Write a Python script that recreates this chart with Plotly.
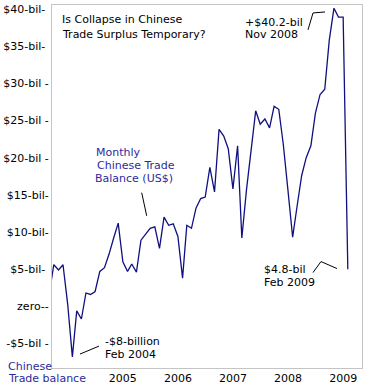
import plotly.graph_objects as go

# ---- data ----
months = [
    "2003-09-01", "2003-10-01", "2003-11-01", "2003-12-01",
    "2004-01-01", "2004-02-01", "2004-03-01", "2004-04-01", "2004-05-01", "2004-06-01",
    "2004-07-01", "2004-08-01", "2004-09-01", "2004-10-01", "2004-11-01", "2004-12-01",
    "2005-01-01", "2005-02-01", "2005-03-01", "2005-04-01", "2005-05-01", "2005-06-01",
    "2005-07-01", "2005-08-01", "2005-09-01", "2005-10-01", "2005-11-01", "2005-12-01",
    "2006-01-01", "2006-02-01", "2006-03-01", "2006-04-01", "2006-05-01", "2006-06-01",
    "2006-07-01", "2006-08-01", "2006-09-01", "2006-10-01", "2006-11-01", "2006-12-01",
    "2007-01-01", "2007-02-01", "2007-03-01", "2007-04-01", "2007-05-01", "2007-06-01",
    "2007-07-01", "2007-08-01", "2007-09-01", "2007-10-01", "2007-11-01", "2007-12-01",
    "2008-01-01", "2008-02-01", "2008-03-01", "2008-04-01", "2008-05-01", "2008-06-01",
    "2008-07-01", "2008-08-01", "2008-09-01", "2008-10-01", "2008-11-01", "2008-12-01",
    "2009-01-01", "2009-02-01",
]
trade_balance_bil = [
    1.8, 5.6, 4.9, 5.6,
    0.3, -6.8, -0.6, -1.7, 1.8, 1.6,
    2.0, 4.7, 5.2, 7.0, 9.2, 11.2,
    6.0, 4.7, 5.7, 4.6, 8.9, 9.8,
    10.5, 10.7, 7.8, 12.0, 10.9, 11.1,
    9.4, 3.8, 10.9, 10.5, 13.2, 14.5,
    14.7, 18.7, 15.4, 23.8, 22.9, 21.2,
    15.8, 21.6, 9.2, 15.7, 21.3, 26.3,
    24.5, 25.2, 24.0, 26.9, 26.5, 21.8,
    15.6, 9.3, 13.4, 17.6, 20.0, 21.6,
    26.0, 28.5, 29.2, 35.8, 40.1, 38.9,
    38.9, 5.0,
]
y_tickvals = [40, 35, 30, 25, 20, 15, 10, 5, 0, -5]
y_ticktext = ["$40-bil-\u00a0", "$35-bil-\u00a0", "$30-bil -", "$25-bil -", "$20-bil -",
              "$15-bil-", "$10-bil-", "$5-bil-\u00a0", "zero--", "-$5-bil -"]
x_tickvals = ["2005-01-01", "2006-01-01", "2007-01-01", "2008-01-01", "2009-01-01"]
x_ticktext = ["2005", "2006", "2007", "2008", "2009"]

W, H = 369, 389
L, R, T, B = 52, 7, 3, 21
PW, PH = W - L - R, H - T - B
FONT = "DejaVu Sans"
BLUE = "#2b2b9c"


def px(x):
    return (x - L) / PW


def py(y):
    return (H - B - y) / PH


fig = go.Figure()
fig.add_trace(go.Scatter(x=months, y=trade_balance_bil, mode="lines",
                         line=dict(color="#101080", width=1.3), hoverinfo="skip"))

texts = [
    ("Is Collapse in Chinese", 61, 18, "#000000"),
    ("Trade Surplus Temporary?", 61, 32.5, "#000000"),
    ("+$40.2-bil", 244, 21, "#000000"),
    ("Nov 2008", 244, 33, "#000000"),
    ("Monthly", 95, 151, BLUE),
    ("Chinese Trade", 96, 164, BLUE),
    ("Balance (US$)", 94, 177, BLUE),
    ("-$8-billion", 104, 341, "#000000"),
    ("Feb 2004", 104, 354, "#000000"),
    ("$4.8-bil", 263, 269, "#000000"),
    ("Feb 2009", 263, 282, "#000000"),
    ("Chinese", 7, 366, BLUE),
    ("Trade balance", 7, 379, BLUE),
]
annotations = []
for t, x, y, c in texts:
    annotations.append(dict(text=t, x=px(x), y=py(y), xref="paper", yref="paper",
                            xanchor="left", yanchor="middle", showarrow=False,
                            borderpad=0, font=dict(family=FONT, size=11, color=c)))

callouts = [
    [(308, 28), (313, 11), (325, 10)],
    [(80, 354), (99, 346)],
    [(141.7, 191.7), (146.7, 215)],
    [(313, 272), (321, 261), (337, 268)],
]
shapes = []
for pts in callouts:
    path = "M " + " L ".join(f"{px(a):.5f},{py(b):.5f}" for a, b in pts)
    shapes.append(dict(type="path", path=path, xref="paper", yref="paper",
                       line=dict(color="#000000", width=1)))

fig.update_layout(
    width=W, height=H, margin=dict(l=L, r=R, t=T, b=B),
    paper_bgcolor="white", plot_bgcolor="white", showlegend=False,
    annotations=annotations, shapes=shapes,
    font=dict(family=FONT, size=11, color="#000000"),
    xaxis=dict(type="date", range=["2003-09-19", "2009-05-06"], showgrid=False,
               zeroline=False, showline=True, linecolor="#c4c4c4", linewidth=1, mirror=True,
               tickvals=x_tickvals, ticktext=x_ticktext, ticks="",
               tickfont=dict(family=FONT, size=11, color="#000000")),
    yaxis=dict(range=[-8.29, 40.53], showgrid=False, zeroline=False,
               showline=True, linecolor="#c4c4c4", linewidth=1, mirror=True,
               tickvals=y_tickvals, ticktext=y_ticktext, ticks="",
               ticklabelstandoff=0,
               tickfont=dict(family=FONT, size=11, color="#000000")),
)

fig.write_html("out.html",
               config={"displayModeBar": False, "staticPlot": True},
               post_script="document.body.style.margin='0';document.body.style.overflow='hidden';")
